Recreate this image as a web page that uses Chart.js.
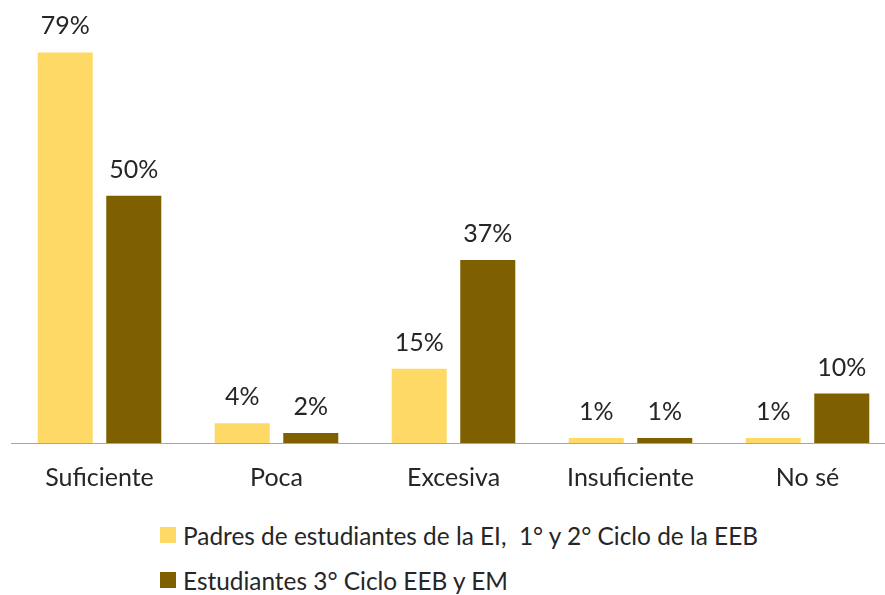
<!DOCTYPE html>
<html>
<head>
<meta charset="utf-8">
<script src="https://cdn.jsdelivr.net/npm/chart.js@4/dist/chart.umd.min.js"></script>
<style>
  html, body { margin: 0; padding: 0; background: #fff; overflow: hidden; width: 885px; height: 595px; }
  #wrap { position: absolute; left: 0; top: 0; width: 897px; height: 505px; }
  #legend { position: absolute; left: 160px; top: 520px; font-family: Lato, "Open Sans", sans-serif; font-size: 24.4px; color: #262626; }
  .item { display: flex; align-items: center; height: 30px; margin-bottom: 15px; }
  .sw { width: 16px; height: 16px; margin-right: 7px; flex: none; }
</style>
</head>
<body>
<div id="wrap"><canvas id="c"></canvas></div>
<div id="legend"></div>
<script>
const categories = ["Suficiente", "Poca", "Excesiva", "Insuficiente", "No sé"];
const seriesNames = ["Padres de estudiantes de la EI,  1° y 2° Ciclo de la EEB", "Estudiantes 3° Ciclo EEB y EM"];
const padres = [79, 4, 15, 1, 1];
const estudiantes = [50, 2, 37, 1, 10];
const colors = ["#FFD966", "#7F6000"];

const FONT = 'Lato, "Open Sans", sans-serif';
const TEXT = '#262626';

const valueLabels = {
  id: 'valueLabels',
  afterDatasetsDraw(chart) {
    const ctx = chart.ctx;
    ctx.save();
    ctx.font = '25px ' + FONT;
    ctx.fillStyle = TEXT;
    ctx.textAlign = 'center';
    ctx.textBaseline = 'alphabetic';
    chart.data.datasets.forEach((ds, di) => {
      chart.getDatasetMeta(di).data.forEach((bar, i) => {
        ctx.fillText(ds.data[i] + '%', bar.x, bar.y - 18);
      });
    });
    ctx.restore();
  }
};

const chart = new Chart(document.getElementById('c'), {
  type: 'bar',
  data: {
    labels: categories,
    datasets: [
      { label: seriesNames[0], data: padres, backgroundColor: colors[0] },
      { label: seriesNames[1], data: estudiantes, backgroundColor: colors[1] }
    ]
  },
  options: {
    responsive: true,
    maintainAspectRatio: false,
    animation: false,
    layout: { padding: { left: 11, right: 1, top: 8, bottom: 0 } },
    datasets: { bar: { categoryPercentage: 0.7745, barPercentage: 0.803 } },
    plugins: { legend: { display: false }, tooltip: { enabled: false } },
    scales: {
      x: {
        grid: { display: false },
        border: { display: true, color: '#A6A6A6', width: 1 },
        ticks: { font: { family: FONT, size: 25 }, color: TEXT, padding: 12 }
      },
      y: { display: false, min: 0, max: 88 }
    }
  },
  plugins: [valueLabels]
});

const legend = document.getElementById('legend');
seriesNames.forEach((n, i) => {
  const d = document.createElement('div');
  d.className = 'item';
  const s = document.createElement('span');
  s.className = 'sw';
  s.style.background = colors[i];
  const t = document.createElement('span');
  t.textContent = n;
  t.style.whiteSpace = 'pre';
  d.appendChild(s); d.appendChild(t);
  legend.appendChild(d);
});
</script>
</body>
</html>
